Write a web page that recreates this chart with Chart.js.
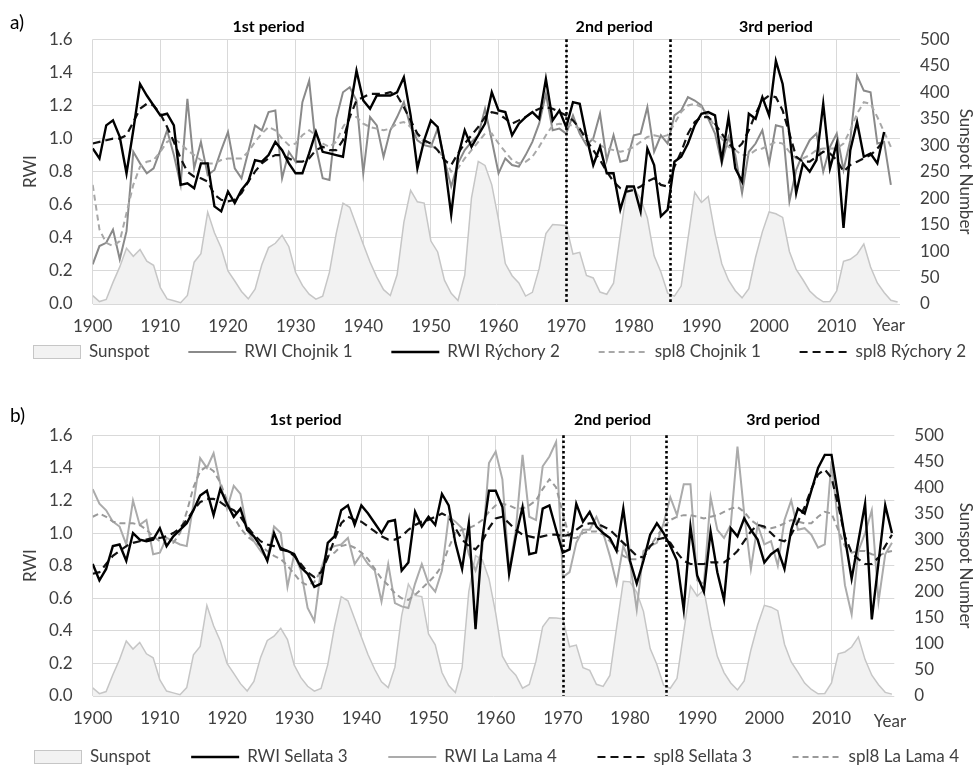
<!DOCTYPE html>
<html>
<head>
<meta charset="utf-8">
<script src="https://cdn.jsdelivr.net/npm/chart.js@4.4.0/dist/chart.umd.min.js"></script>
<style>
  html, body { margin: 0; padding: 0; background: #fff; }
  #wrap { position: relative; width: 976px; height: 776px; }
  .panel { position: absolute; left: 0; width: 976px; }
  #pa { top: 0; height: 372px; }
  #pb { top: 372px; height: 404px; }
</style>
</head>
<body>
<div id="wrap">
  <div class="panel" id="pa"><canvas id="ca" width="976" height="372"></canvas></div>
  <div class="panel" id="pb"><canvas id="cb" width="976" height="404"></canvas></div>
</div>
<script>
// years on the x axis (categories)
const years = Array.from({ length: 120 }, (_, i) => 1900 + i);
const tickYears = [1900, 1910, 1920, 1930, 1940, 1950, 1960, 1970, 1980, 1990, 2000, 2010];
const periods = ['1st period', '2nd period', '3rd period'];
const breakYears = [1970, 1985.4];

// yearly sunspot number 1900-2019
const sunspot = [
  15.7, 4.6, 8.5, 40.8, 70.1, 105.5, 90.1, 102.8, 80.9, 73.2,
  30.9, 9.5, 6.0, 2.4, 16.1, 79.0, 95.0, 173.6, 134.6, 105.7,
  62.7, 43.5, 23.7, 9.7, 27.9, 74.0, 106.5, 114.7, 129.7, 108.2,
  59.4, 35.1, 18.6, 9.2, 14.6, 60.2, 132.8, 190.6, 182.6, 148.0,
  113.0, 79.2, 50.8, 27.1, 16.1, 55.3, 154.3, 214.7, 193.0, 190.7,
  118.9, 98.3, 45.0, 20.1, 6.6, 54.2, 200.7, 269.3, 261.7, 225.1,
  159.0, 76.4, 53.4, 39.9, 15.0, 22.0, 66.8, 132.9, 150.0, 149.4,
  148.0, 94.4, 97.6, 54.1, 49.2, 22.5, 18.4, 39.3, 131.0, 220.1,
  218.9, 198.9, 162.4, 91.0, 60.5, 20.6, 14.8, 33.9, 123.0, 211.1,
  191.8, 203.3, 133.0, 76.1, 44.9, 25.1, 11.6, 28.9, 88.3, 136.3,
  173.9, 170.4, 163.6, 99.3, 65.3, 45.8, 24.7, 12.6, 4.2, 4.8,
  24.9, 80.8, 84.5, 94.0, 113.3, 69.8, 39.8, 21.7, 7.0, 3.6
];

// panel a) 1900-2018
const rwiChojnik = [
  0.24, 0.35, 0.37, 0.45, 0.27, 0.44, 0.92, 0.85, 0.79, 0.82,
  0.93, 1.05, 0.90, 0.72, 1.24, 0.82, 0.98, 0.78, 0.81, 0.93,
  1.04, 0.82, 0.76, 0.92, 1.08, 1.05, 1.16, 1.17, 0.76, 0.92,
  0.86, 1.22, 1.35, 0.95, 0.76, 0.75, 1.12, 1.28, 1.31, 1.23,
  0.79, 1.13, 1.08, 0.89, 1.05, 1.13, 1.22, 1.07, 0.99, 0.96,
  0.95, 1.06, 0.87, 0.71, 0.85, 0.93, 0.98, 1.02, 1.18, 0.99,
  0.79, 0.88, 0.84, 0.83, 0.90, 0.98, 1.09, 1.27, 1.05, 1.06,
  1.03, 1.14, 1.03, 0.96, 1.00, 1.15, 0.87, 1.02, 0.86, 0.87,
  1.02, 1.03, 1.19, 0.92, 1.02, 0.97, 1.14, 1.17, 1.25, 1.23,
  1.20, 1.12, 1.03, 0.85, 1.01, 0.90, 0.67, 0.92, 0.97, 1.05,
  0.85, 1.08, 1.07, 0.62, 0.81, 0.91, 0.99, 1.03, 0.80, 0.95,
  1.03, 0.81, 0.99, 1.38, 1.29, 1.28, 0.97, 0.98, 0.72
];
// 1900-2017
const rwiRychory = [
  0.94, 0.88, 1.08, 1.11, 1.01, 0.79, 1.05, 1.33, 1.26, 1.20,
  1.14, 1.15, 1.08, 0.72, 0.73, 0.70, 0.85, 0.85, 0.59, 0.56,
  0.68, 0.61, 0.69, 0.74, 0.87, 0.86, 0.90, 0.98, 0.93, 0.85,
  0.79, 0.79, 0.91, 1.04, 0.92, 0.91, 0.90, 0.89, 1.17, 1.41,
  1.23, 1.18, 1.26, 1.26, 1.26, 1.28, 1.37, 1.14, 0.82, 0.99,
  1.11, 1.07, 0.86, 0.54, 0.89, 1.05, 0.95, 1.02, 1.09, 1.28,
  1.17, 1.16, 1.02, 1.09, 1.13, 1.16, 1.12, 1.36, 1.11, 1.17,
  1.07, 1.22, 1.21, 1.01, 0.84, 0.95, 0.79, 0.79, 0.57, 0.71,
  0.71, 0.56, 0.94, 0.84, 0.53, 0.57, 0.86, 0.89, 0.97, 1.08,
  1.15, 1.16, 1.14, 0.87, 1.13, 0.82, 0.74, 1.15, 1.12, 1.25,
  1.14, 1.47, 1.33, 1.03, 0.67, 0.85, 0.80, 0.87, 1.21, 0.82,
  0.97, 0.46, 0.93, 1.10, 0.89, 0.91, 0.85, 1.04
];
const splChojnik = [
  0.72, 0.45, 0.37, 0.35, 0.38, 0.55, 0.72, 0.83, 0.86, 0.87,
  0.92, 0.98, 1.00, 0.97, 0.93, 0.90, 0.87, 0.85, 0.85, 0.87,
  0.88, 0.88, 0.88, 0.92, 0.98, 1.03, 1.07, 1.05, 1.00, 0.96,
  0.97, 1.02, 1.05, 1.02, 0.97, 0.95, 0.98, 1.07, 1.13, 1.13,
  1.09, 1.07, 1.06, 1.05, 1.06, 1.09, 1.10, 1.07, 1.02, 0.98,
  0.96, 0.93, 0.88, 0.80, 0.82, 0.88, 0.93, 0.98, 1.03, 1.03,
  0.97, 0.92, 0.87, 0.85, 0.86, 0.89, 0.95, 1.02, 1.08, 1.09,
  1.08, 1.08, 1.06, 1.02, 0.99, 0.96, 0.94, 0.93, 0.92, 0.93,
  0.95, 0.98, 1.01, 1.02, 1.01, 1.02, 1.09, 1.16, 1.20, 1.21,
  1.19, 1.14, 1.07, 1.00, 0.95, 0.93, 0.90, 0.90, 0.93, 0.94,
  0.96, 0.98, 0.97, 0.92, 0.88, 0.88, 0.90, 0.93, 0.94, 0.94,
  0.94, 0.97, 1.05, 1.15, 1.22, 1.21, 1.13, 1.04, 0.95
];
const splRychory = [
  0.97, 0.98, 0.99, 1.00, 1.00, 1.02, 1.10, 1.18, 1.21, 1.20,
  1.15, 1.07, 0.98, 0.88, 0.80, 0.77, 0.76, 0.74, 0.66, 0.63,
  0.62, 0.63, 0.67, 0.74, 0.80, 0.85, 0.88, 0.90, 0.90, 0.88,
  0.86, 0.86, 0.88, 0.93, 0.95, 0.93, 0.93, 0.99, 1.13, 1.23,
  1.25, 1.27, 1.27, 1.27, 1.28, 1.26, 1.19, 1.11, 1.03, 0.99,
  0.97, 0.93, 0.87, 0.84, 0.91, 0.97, 1.02, 1.07, 1.13, 1.16,
  1.15, 1.12, 1.09, 1.11, 1.13, 1.16, 1.18, 1.19, 1.18, 1.16,
  1.14, 1.11, 1.06, 0.99, 0.93, 0.87, 0.80, 0.74, 0.70, 0.68,
  0.69, 0.71, 0.74, 0.76, 0.72, 0.71, 0.83, 0.92, 1.03, 1.10,
  1.13, 1.13, 1.09, 1.03, 0.97, 0.93, 0.97, 1.05, 1.15, 1.23,
  1.26, 1.25, 1.17, 1.03, 0.89, 0.86, 0.86, 0.89, 0.92, 0.91,
  0.87, 0.80, 0.84, 0.86, 0.88, 0.90, 0.94, 0.99
];

// panel b) 1900-2019
const rwiSellata = [
  0.81, 0.71, 0.78, 0.92, 0.93, 0.83, 1.00, 0.96, 0.95, 0.96,
  1.03, 0.92, 0.98, 1.02, 1.06, 1.14, 1.23, 1.26, 1.11, 1.27,
  1.18, 1.10, 1.15, 1.02, 0.98, 0.92, 0.83, 1.00, 0.90, 0.89,
  0.87, 0.79, 0.75, 0.67, 0.69, 0.94, 0.98, 1.14, 1.17, 1.05,
  1.17, 1.12, 1.06, 1.00, 1.07, 1.08, 0.77, 0.82, 1.13, 1.04,
  1.10, 1.05, 1.24, 1.17, 0.94, 0.78, 1.06, 0.41, 0.96, 1.26,
  1.26, 1.16, 0.75, 0.98, 1.16, 0.87, 0.88, 1.15, 1.17, 1.02,
  0.88, 0.90, 1.18, 1.07, 1.13, 1.04, 1.00, 0.97, 0.89, 1.15,
  0.83, 0.69, 0.83, 0.99, 1.06, 1.00, 0.92, 0.83, 0.53, 1.04,
  0.74, 0.64, 1.01, 0.76, 0.59, 1.03, 0.98, 1.09, 1.02, 0.96,
  0.82, 0.87, 0.90, 0.78, 1.02, 1.15, 1.12, 1.26, 1.40, 1.48,
  1.48, 1.22, 0.97, 0.72, 0.95, 1.18, 0.47, 0.82, 1.17, 1.00
];
const rwiLaLama = [
  1.27, 1.18, 1.14, 1.07, 1.04, 0.93, 1.20, 1.05, 1.08, 0.87,
  0.88, 0.97, 0.95, 0.93, 0.92, 1.18, 1.46, 1.40, 1.49, 1.30,
  1.15, 1.29, 1.24, 1.02, 0.95, 0.89, 0.84, 1.04, 1.00, 0.67,
  0.87, 0.77, 0.54, 0.46, 0.78, 0.90, 0.92, 0.93, 0.97, 0.81,
  0.87, 0.81, 0.77, 0.58, 0.81, 0.57, 0.55, 0.54, 0.69, 0.81,
  0.69, 0.64, 0.77, 1.10, 1.07, 1.03, 0.87, 0.77, 0.90, 1.43,
  1.50, 1.33, 0.77, 1.02, 1.48, 1.10, 1.08, 1.41, 1.47, 1.56,
  0.73, 0.76, 0.94, 1.02, 1.02, 1.10, 1.00, 0.86, 0.69, 0.92,
  0.82, 0.53, 0.89, 0.92, 0.94, 1.06, 1.22, 1.11, 1.30, 1.30,
  0.71, 0.69, 1.22, 1.02, 0.97, 1.05, 1.53, 1.12, 0.78, 1.05,
  0.93, 0.95, 0.80, 1.08, 1.20, 1.02, 1.03, 0.99, 0.91, 0.93,
  1.44, 1.05, 0.68, 0.50, 0.89, 1.00, 1.14, 0.58, 0.87, 0.94
];
const splSellata = [
  0.75, 0.76, 0.81, 0.86, 0.89, 0.92, 0.94, 0.95, 0.96, 0.97,
  0.97, 0.98, 1.00, 1.03, 1.08, 1.14, 1.19, 1.21, 1.21, 1.19,
  1.16, 1.14, 1.10, 1.04, 0.99, 0.95, 0.93, 0.92, 0.91, 0.89,
  0.86, 0.81, 0.76, 0.73, 0.76, 0.85, 0.96, 1.06, 1.10, 1.08,
  1.07, 1.04, 1.01, 0.98, 0.96, 0.96, 0.98, 1.02, 1.05, 1.07,
  1.08, 1.10, 1.12, 1.10, 1.03, 0.96, 0.92, 0.90, 0.95, 1.03,
  1.09, 1.10, 1.06, 1.02, 0.99, 0.98, 0.97, 0.98, 0.99, 0.99,
  0.98, 0.99, 1.02, 1.05, 1.06, 1.06, 1.04, 1.02, 0.98, 0.94,
  0.90, 0.86, 0.85, 0.92, 0.96, 0.97, 0.94, 0.88, 0.83, 0.81,
  0.81, 0.81, 0.82, 0.82, 0.82, 0.85, 0.89, 0.95, 1.01, 1.05,
  1.04, 1.00, 0.96, 0.95, 0.99, 1.07, 1.16, 1.27, 1.36, 1.39,
  1.34, 1.17, 0.98, 0.88, 0.84, 0.81, 0.81, 0.85, 0.92, 0.99
];
const splLaLama = [
  1.10, 1.12, 1.10, 1.07, 1.06, 1.06, 1.06, 1.05, 1.02, 0.98,
  0.95, 0.93, 0.94, 1.00, 1.13, 1.28, 1.38, 1.41, 1.38, 1.31,
  1.20, 1.10, 1.03, 0.98, 0.95, 0.92, 0.89, 0.86, 0.84, 0.80,
  0.75, 0.70, 0.68, 0.70, 0.77, 0.86, 0.88, 0.92, 0.93, 0.91,
  0.88, 0.84, 0.78, 0.72, 0.68, 0.63, 0.60, 0.59, 0.62, 0.66,
  0.70, 0.74, 0.80, 0.91, 1.00, 1.02, 1.03, 1.05, 1.08, 1.13,
  1.17, 1.18, 1.17, 1.15, 1.15, 1.17, 1.20, 1.27, 1.33, 1.28,
  1.12, 0.97, 0.97, 1.00, 1.01, 1.01, 0.99, 0.95, 0.90, 0.86,
  0.84, 0.84, 0.86, 0.92, 0.98, 1.04, 1.08, 1.10, 1.11, 1.11,
  1.10, 1.09, 1.10, 1.11, 1.13, 1.15, 1.16, 1.13, 1.08, 1.05,
  1.03, 1.03, 1.04, 1.06, 1.08, 1.07, 1.06, 1.06, 1.10, 1.13,
  1.12, 1.02, 0.92, 0.88, 0.89, 0.89, 0.87, 0.86, 0.88, 0.89
];

const FONT = 'Lato, "Open Sans", sans-serif';
const TEXT = '#404040';
const GRID = '#d9d9d9';

function pts(vals) {
  return vals.map((v, i) => ({ x: years[i], y: v }));
}

function sunspotSet() {
  return {
    label: 'Sunspot', data: pts(sunspot), yAxisID: 'y2', order: 10,
    fill: 'origin', backgroundColor: '#f2f2f2', borderColor: '#c6c6c6', borderWidth: 1.5,
    pointRadius: 0, legendStyle: 'rect'
  };
}

function lineSet(label, vals, color, width, dash, order) {
  return {
    label: label, data: pts(vals), yAxisID: 'y', order: order,
    borderColor: color, borderWidth: width, borderDash: dash, fill: false,
    pointRadius: 0, legendStyle: 'line'
  };
}

// legend row spread over the full width, like the original
function drawLegend(chart, o) {
  const ctx = chart.ctx;
  const sets = chart.data.datasets;
  const sw = 48, gap = 8;
  ctx.save();
  ctx.font = '17px ' + FONT;
  const widths = sets.map(ds => sw + gap + ctx.measureText(ds.label).width);
  const total = widths.reduce((a, b) => a + b, 0);
  const space = (o.legendRight - o.legendLeft - total) / (sets.length - 1);
  const y = o.legendY;
  let x = o.legendLeft;
  sets.forEach((ds, i) => {
    if (ds.legendStyle === 'rect') {
      ctx.fillStyle = ds.backgroundColor;
      ctx.fillRect(x, y - 7, sw, 14);
      ctx.strokeStyle = ds.borderColor;
      ctx.lineWidth = 1;
      ctx.strokeRect(x + 0.5, y - 6.5, sw - 1, 13);
    } else {
      ctx.strokeStyle = ds.borderColor;
      ctx.lineWidth = ds.borderWidth;
      ctx.setLineDash(ds.borderDash);
      ctx.beginPath();
      ctx.moveTo(x, y);
      ctx.lineTo(x + sw, y);
      ctx.stroke();
      ctx.setLineDash([]);
    }
    ctx.fillStyle = TEXT;
    ctx.textAlign = 'left';
    ctx.textBaseline = 'middle';
    ctx.fillText(ds.label, x + sw + gap, y);
    x += widths[i] + space;
  });
  ctx.restore();
}

const annotations = {
  id: 'annotations',
  afterDatasetsDraw(chart, args, o) {
    const { ctx, chartArea, scales } = chart;
    const x = scales.x;
    ctx.save();
    ctx.strokeStyle = '#000';
    ctx.lineWidth = 2.6;
    ctx.setLineDash([2.6, 2.6]);
    breakYears.forEach(yr => {
      const px = Math.round(x.getPixelForValue(yr)) + 0.5;
      ctx.beginPath();
      ctx.moveTo(px, chartArea.top);
      ctx.lineTo(px, chartArea.bottom);
      ctx.stroke();
    });
    ctx.setLineDash([]);
    ctx.fillStyle = '#000';
    ctx.textAlign = 'center';
    ctx.textBaseline = 'middle';
    ctx.font = 'bold 16px ' + FONT;
    periods.forEach((p, i) => ctx.fillText(p, x.getPixelForValue(o.periodAt[i]), chartArea.top + o.periodDy));
    ctx.textAlign = 'left';
    ctx.font = '19px ' + FONT;
    ctx.fillText(o.panel, 10, chartArea.top + o.panelDy);
    ctx.textAlign = 'center';
    ctx.fillStyle = TEXT;
    ctx.font = '17px ' + FONT;
    ctx.fillText('Year', x.getPixelForValue(o.yearAt), chartArea.bottom + o.yearDy);
    ctx.restore();
    drawLegend(chart, o);
  }
};

function makeChart(canvasId, datasets, opt) {
  return new Chart(document.getElementById(canvasId), {
    type: 'line',
    data: { datasets: datasets },
    plugins: [annotations],
    options: {
      responsive: false,
      animation: false,
      layout: { padding: { top: opt.top, bottom: opt.bottom, left: 0, right: 0 } },
      scales: {
        x: {
          type: 'linear', min: 1900, max: 2019.35,
          afterBuildTicks: s => { s.ticks = tickYears.map(v => ({ value: v })); },
          afterFit: s => { s.height = 36; },
          ticks: { color: TEXT, font: { size: 17 }, padding: 12, maxRotation: 0, autoSkip: false, callback: v => String(v) },
          grid: { color: GRID, drawTicks: false },
          border: { display: false }
        },
        y: {
          position: 'left', min: 0, max: 1.6,
          afterFit: s => { s.width = 92.7; },
          ticks: { stepSize: 0.2, color: TEXT, font: { size: 17 }, padding: 20, callback: v => v.toFixed(1) },
          grid: { color: GRID, drawTicks: false },
          border: { display: false },
          title: { display: true, text: 'RWI', color: TEXT, font: { size: 17 }, padding: { top: 20, bottom: 0 } }
        },
        y2: {
          position: 'right', min: 0, max: 500,
          afterFit: s => { s.width = opt.rw; },
          ticks: { stepSize: 50, color: TEXT, font: { size: 17 }, padding: 20 },
          grid: { display: false, drawTicks: false },
          border: { display: false },
          title: { display: true, text: 'Sunspot Number', color: TEXT, font: { size: 17 }, padding: { top: 0, bottom: 0 } }
        }
      },
      plugins: {
        tooltip: { enabled: false },
        legend: { display: false },
        annotations: opt.ann
      }
    }
  });
}

function draw() {
  Chart.defaults.font.family = FONT;
  Chart.defaults.color = TEXT;

  makeChart('ca', [
    sunspotSet(),
    lineSet('RWI Chojnik 1', rwiChojnik, '#8a8a8a', 2, [], 4),
    lineSet('RWI Rýchory 2', rwiRychory, '#000000', 2.4, [], 1),
    lineSet('spl8 Chojnik 1', splChojnik, '#a8a8a8', 2, [6, 4], 3),
    lineSet('spl8 Rýchory 2', splRychory, '#111111', 2.2, [8, 5], 2)
  ], {
    top: 39.3, bottom: 32, rw: 76,
    ann: {
      panel: 'a)', panelDy: -16, periodAt: [1926, 1977.1, 2001], periodDy: -12,
      yearAt: 2017.7, yearDy: 22, legendLeft: 33, legendRight: 966, legendY: 352
    }
  });

  makeChart('cb', [
    sunspotSet(),
    lineSet('RWI Sellata 3', rwiSellata, '#000000', 2.4, [], 1),
    lineSet('RWI La Lama 4', rwiLaLama, '#ababab', 2, [], 4),
    lineSet('spl8 Sellata 3', splSellata, '#111111', 2.2, [8, 5], 2),
    lineSet('spl8 La Lama 4', splLaLama, '#9a9a9a', 2, [6, 4], 3)
  ], {
    top: 63.3, bottom: 44, rw: 81.7,
    ann: {
      panel: 'b)', panelDy: -19, periodAt: [1931.7, 1977.4, 2002.8], periodDy: -15,
      yearAt: 2018.7, yearDy: 26, legendLeft: 34, legendRight: 959, legendY: 385
    }
  });
}

if (document.fonts && document.fonts.load) {
  Promise.all([document.fonts.load('16px Lato'), document.fonts.load('bold 16px Lato')]).then(draw, draw);
} else {
  draw();
}
</script>
</body>
</html>
